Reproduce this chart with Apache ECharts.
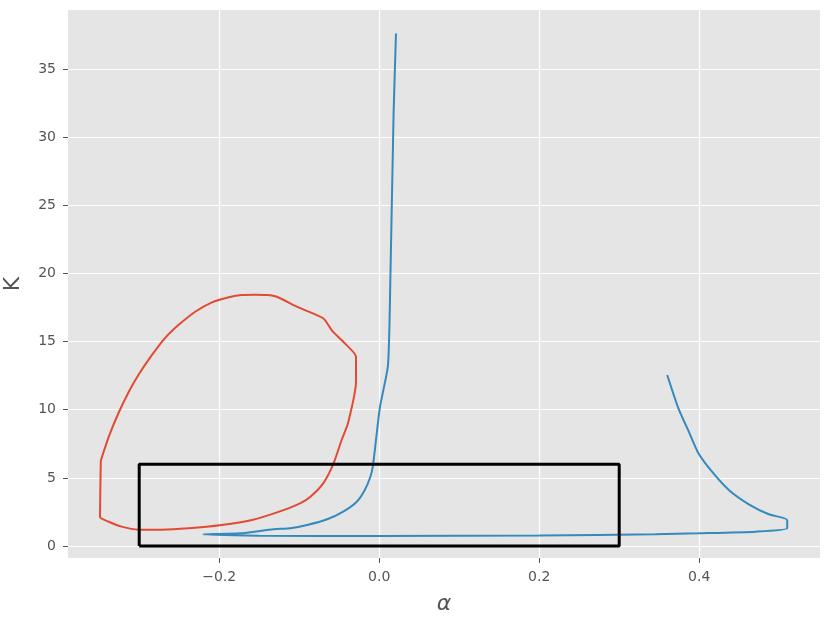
<!DOCTYPE html>
<html>
<head>
<meta charset="utf-8">
<script src="https://cdn.jsdelivr.net/npm/echarts@6/dist/echarts.min.js"></script>
<style>
  html, body { margin: 0; padding: 0; background: #fff; }
  #main { width: 830px; height: 623px; }
</style>
</head>
<body>
<div id="main"></div>
<script>
// 红色闭合曲线
var redAlpha = [-0.348, -0.349, -0.338, -0.322, -0.301, -0.272, -0.238, -0.197, -0.159, -0.125, -0.099, -0.086, -0.070, -0.057, -0.047, -0.039, -0.029, -0.029, -0.045, -0.059, -0.070, -0.103, -0.128, -0.140, -0.155, -0.172, -0.188, -0.209, -0.230, -0.251, -0.268, -0.284, -0.301, -0.313, -0.326, -0.338, -0.348];
var redK = [6.26, 2.15, 1.78, 1.42, 1.20, 1.20, 1.30, 1.54, 1.91, 2.52, 3.13, 3.62, 4.60, 6.07, 7.78, 9.0, 12.05, 13.89, 14.99, 15.80, 16.71, 17.56, 18.29, 18.42, 18.44, 18.42, 18.25, 17.88, 17.19, 16.21, 15.24, 14.02, 12.55, 11.32, 9.74, 8.02, 6.26];

// 蓝色曲线
var blueAlpha = [0.021, 0.018, 0.014, 0.011, 0.001, -0.004, -0.008, -0.011, -0.018, -0.028, -0.045, -0.065, -0.090, -0.111, -0.132, -0.174, -0.220, -0.150, 0.0, 0.200, 0.345, 0.399, 0.470, 0.510, 0.510, 0.487, 0.462, 0.437, 0.416, 0.399, 0.387, 0.374, 0.360];
var blueK = [37.6, 31.75, 19.76, 13.28, 10.22, 7.78, 5.82, 5.08, 4.11, 3.25, 2.52, 1.96, 1.54, 1.30, 1.23, 0.93, 0.86, 0.76, 0.73, 0.77, 0.86, 0.93, 1.05, 1.30, 1.91, 2.33, 3.06, 4.11, 5.45, 6.80, 8.39, 10.10, 12.55];

// 黑色矩形框
var boxAlpha = [-0.3, 0.3, 0.3, -0.3, -0.3];
var boxK = [0, 0, 6, 6, 0];

// 刻度
var xTicks = [-0.2, 0.0, 0.2, 0.4];
var yTicks = [0, 5, 10, 15, 20, 25, 30, 35];

function pairs(xs, ys) {
  return xs.map(function (x, i) { return [x, ys[i]]; });
}

var myChart = echarts.init(document.getElementById('main'));

var option = {
  backgroundColor: '#ffffff',
  animation: false,
  grid: {
    left: 68,
    right: 10,
    top: 10,
    bottom: 65,
    containLabel: false,
    outerBoundsMode: 'none',
    show: true,
    backgroundColor: '#E5E5E5',
    borderWidth: 0
  },
  xAxis: {
    type: 'value',
    min: -0.389,
    max: 0.551,
    name: 'α',
    nameLocation: 'middle',
    nameGap: 35,
    nameTextStyle: { fontFamily: 'DejaVu Sans', fontSize: 22, fontStyle: 'italic', color: '#555555' },
    axisLine: { show: false, onZero: false },
    axisTick: { show: true, length: 5, customValues: xTicks, lineStyle: { color: '#555555' } },
    axisLabel: {
      customValues: xTicks,
      margin: 12,
      fontFamily: 'DejaVu Sans',
      fontSize: 14,
      color: '#555555',
      formatter: function (v) { return v.toFixed(1).replace('-', '\u2212'); }
    },
    splitLine: { show: true, lineStyle: { color: '#ffffff', width: 1.2 } }
  },
  yAxis: {
    type: 'value',
    min: -0.88,
    max: 39.33,
    name: 'K',
    nameLocation: 'middle',
    nameGap: 44,
    nameTextStyle: { fontFamily: 'DejaVu Sans', fontSize: 22, color: '#555555' },
    axisLine: { show: false, onZero: false },
    axisTick: { show: true, length: 5, customValues: yTicks, lineStyle: { color: '#555555' } },
    axisLabel: {
      customValues: yTicks,
      margin: 12,
      fontFamily: 'DejaVu Sans',
      fontSize: 14,
      color: '#555555'
    },
    splitLine: { show: true, lineStyle: { color: '#ffffff', width: 1.2 } }
  },
  series: [
    {
      type: 'line',
      data: pairs(redAlpha, redK),
      showSymbol: false,
      smooth: 0.2,
      lineStyle: { color: '#E24A33', width: 2 },
      z: 3
    },
    {
      type: 'line',
      data: pairs(blueAlpha, blueK),
      showSymbol: false,
      smooth: 0.2,
      lineStyle: { color: '#348ABD', width: 2 },
      z: 3
    },
    {
      type: 'line',
      data: pairs(boxAlpha, boxK),
      showSymbol: false,
      lineStyle: { color: '#000000', width: 3 },
      z: 4
    }
  ]
};

myChart.setOption(option);
</script>
</body>
</html>
